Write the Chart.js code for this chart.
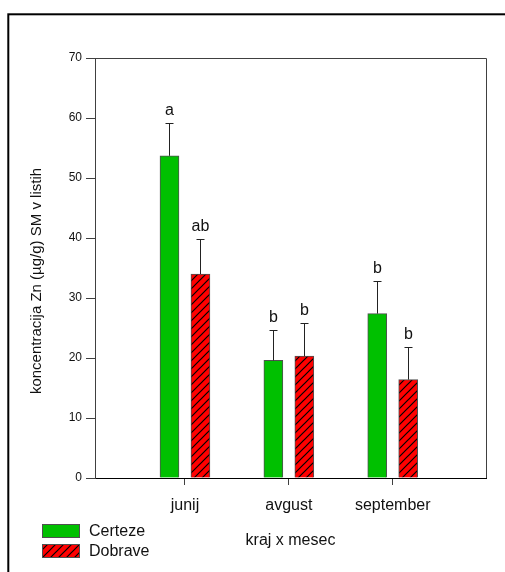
<!DOCTYPE html>
<html>
<head>
<meta charset="utf-8">
<script src="https://cdn.jsdelivr.net/npm/chart.js@4.4.1/dist/chart.umd.min.js"></script>
<style>
  html, body { margin: 0; padding: 0; background: #fff; }
  #wrap { position: relative; width: 505px; height: 572px; }
</style>
</head>
<body>
<div id="wrap"><canvas id="c" width="505" height="572"></canvas></div>
<script>
// ---- data ----
const categories = ['junij', 'avgust', 'september'];
const seriesNames = ['Certeze', 'Dobrave'];
const certeze = [53.7, 19.6, 27.4];
const dobrave = [34.0, 20.3, 16.4];
const certezeErr = [5.5, 5.0, 5.5];
const dobraveErr = [5.9, 5.6, 5.5];
const certezeLetters = ['a', 'b', 'b'];
const dobraveLetters = ['ab', 'b', 'b'];
const yTicks = [0, 10, 20, 30, 40, 50, 60, 70];
const yTitle = 'koncentracija Zn (µg/g) SM v listih';
const xTitle = 'kraj x mesec';

const FONT = "'Liberation Sans', Arial, Helvetica, sans-serif";
const TXT = '#111';
const AXIS = '#404040';

function hatchPattern() {
  const s = 8;
  const p = document.createElement('canvas');
  p.width = s; p.height = s;
  const g = p.getContext('2d');
  g.fillStyle = '#ff0000';
  g.fillRect(0, 0, s, s);
  g.strokeStyle = '#000';
  g.lineWidth = 1.2;
  g.beginPath();
  g.moveTo(0, s); g.lineTo(s, 0);
  g.moveTo(-1, 1); g.lineTo(1, -1);
  g.moveTo(s - 1, s + 1); g.lineTo(s + 1, s - 1);
  g.stroke();
  return document.getElementById('c').getContext('2d').createPattern(p, 'repeat');
}

const offset = 0.149;
const pattern = hatchPattern();

const datasets = [
  {
    label: seriesNames[0],
    data: certeze.map((v, i) => ({ x: i + 1 - offset, y: v })),
    err: certezeErr,
    letters: certezeLetters,
    backgroundColor: '#00c000',
    borderColor: '#505050',
    borderWidth: 1,
    borderSkipped: 'bottom',
    barThickness: 19,
    grouped: false
  },
  {
    label: seriesNames[1],
    data: dobrave.map((v, i) => ({ x: i + 1 + offset, y: v })),
    err: dobraveErr,
    letters: dobraveLetters,
    backgroundColor: pattern,
    borderColor: '#505050',
    borderWidth: 1,
    borderSkipped: 'bottom',
    barThickness: 19,
    grouped: false
  }
];

const framePlugin = {
  id: 'frame',
  afterDraw(chart) {
    const ctx = chart.ctx;
    const a = chart.chartArea;
    ctx.save();
    ctx.strokeStyle = AXIS;
    ctx.lineWidth = 1;
    ctx.beginPath();
    ctx.moveTo(a.left, a.top + 0.5);
    ctx.lineTo(a.right + 0.5, a.top + 0.5);
    ctx.lineTo(a.right + 0.5, a.bottom);
    ctx.stroke();
    ctx.strokeStyle = '#000';
    ctx.lineWidth = 2;
    ctx.strokeRect(8.3, 14.3, 700, 700);
    // y axis title
    ctx.fillStyle = TXT;
    ctx.font = '15px ' + FONT;
    ctx.textAlign = 'center';
    ctx.textBaseline = 'middle';
    ctx.translate(37, (a.top + a.bottom) / 2 + 13);
    ctx.rotate(-Math.PI / 2);
    ctx.fillText(yTitle, 0, 0);
    ctx.restore();
  }
};

const errorPlugin = {
  id: 'errbars',
  afterDatasetsDraw(chart) {
    const ctx = chart.ctx;
    const ys = chart.scales.y;
    ctx.save();
    chart.data.datasets.forEach((ds, di) => {
      const meta = chart.getDatasetMeta(di);
      meta.data.forEach((bar, i) => {
        const v = ds.data[i].y;
        const top = ys.getPixelForValue(v);
        const cap = ys.getPixelForValue(v + ds.err[i]);
        const x = Math.round(bar.x) + 0.5;
        ctx.strokeStyle = '#222';
        ctx.lineWidth = 1;
        ctx.beginPath();
        ctx.moveTo(x, top);
        ctx.lineTo(x, Math.round(cap) + 0.5);
        ctx.moveTo(x - 4, Math.round(cap) + 0.5);
        ctx.lineTo(x + 4, Math.round(cap) + 0.5);
        ctx.stroke();
        ctx.fillStyle = TXT;
        ctx.font = '16px ' + FONT;
        ctx.textAlign = 'center';
        ctx.textBaseline = 'alphabetic';
        ctx.fillText(ds.letters[i], x, cap - 8);
      });
    });
    ctx.restore();
  }
};

const legendPlugin = {
  id: 'customLegend',
  afterDraw(chart) {
    const ctx = chart.ctx;
    ctx.save();
    chart.data.datasets.forEach((ds, i) => {
      const bx = 42, by = 524 + i * 20, bw = 37, bh = 13;
      ctx.fillStyle = ds.backgroundColor;
      ctx.fillRect(bx, by, bw, bh);
      ctx.strokeStyle = '#505050';
      ctx.lineWidth = 1;
      ctx.strokeRect(bx + 0.5, by + 0.5, bw, bh);
      ctx.fillStyle = TXT;
      ctx.font = '16px ' + FONT;
      ctx.textAlign = 'left';
      ctx.textBaseline = 'middle';
      ctx.fillText(ds.label, 89, by + bh / 2 + 1);
    });
    ctx.restore();
  }
};

new Chart(document.getElementById('c'), {
  type: 'bar',
  data: { datasets },
  options: {
    responsive: false,
    animation: false,
    devicePixelRatio: 1,
    layout: { padding: { top: 58, right: 19, bottom: 0, left: 0 } },
    plugins: { legend: { display: false }, tooltip: { enabled: false } },
    scales: {
      x: {
        type: 'linear',
        offset: false,
        min: 0.134,
        max: 3.898,
        afterBuildTicks(scale) {
          scale.ticks = categories.map((c, i) => ({ value: i + 1 }));
        },
        afterFit(scale) { scale.height = 94; },
        ticks: {
          callback: (v) => categories[v - 1] || '',
          font: { family: FONT, size: 16 },
          color: TXT,
          padding: 11,
          maxRotation: 0,
          autoSkip: false
        },
        grid: { offset: false, drawOnChartArea: false, drawTicks: true, tickLength: 7, color: AXIS },
        border: { display: true, color: '#000', width: 1 },
        title: {
          display: true,
          text: xTitle,
          font: { family: FONT, size: 16 },
          color: TXT,
          padding: { top: 0, bottom: 22 }
        }
      },
      y: {
        min: 0,
        max: 70,
        afterBuildTicks(scale) {
          scale.ticks = yTicks.map(v => ({ value: v }));
        },
        afterFit(scale) { scale.width = 95; },
        ticks: {
          font: { family: FONT, size: 12 },
          color: TXT,
          padding: 4
        },
        grid: { drawOnChartArea: false, drawTicks: true, tickLength: 9, color: AXIS },
        border: { display: true, color: AXIS, width: 1 },
        title: { display: false }
      }
    }
  },
  plugins: [framePlugin, errorPlugin, legendPlugin]
});
</script>
</body>
</html>
